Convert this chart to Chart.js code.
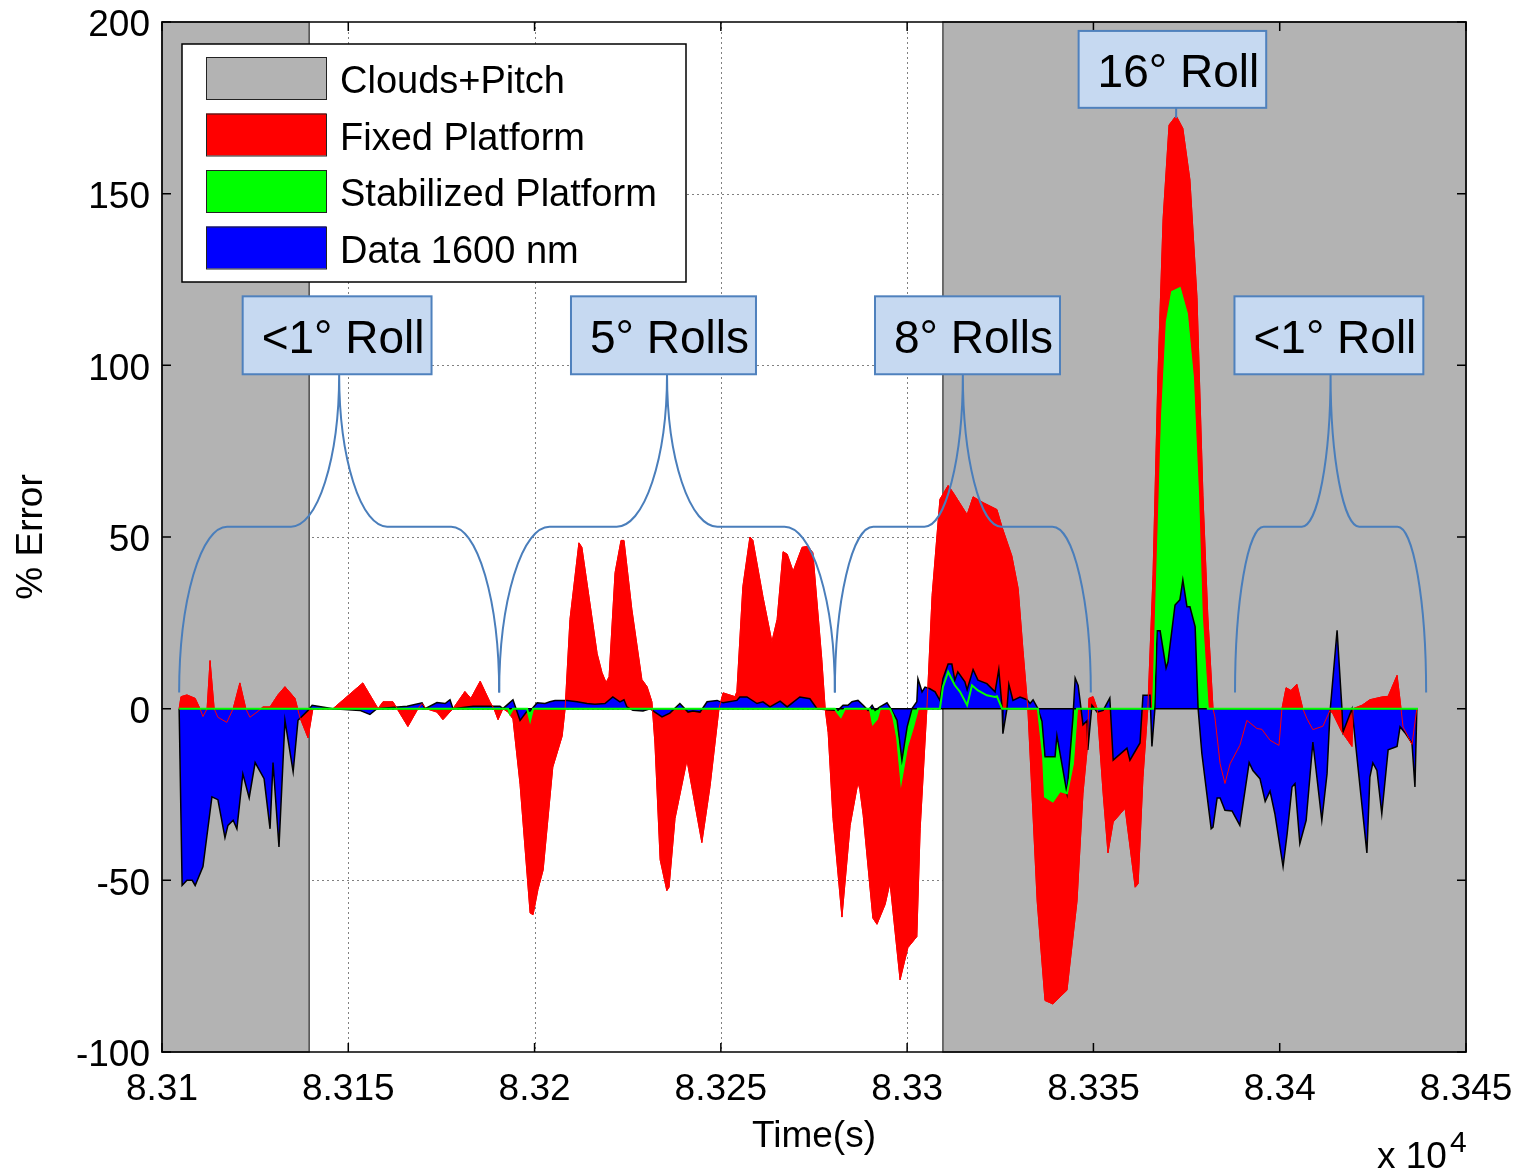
<!DOCTYPE html>
<html>
<head>
<meta charset="utf-8">
<script src="https://cdn.jsdelivr.net/npm/chart.js@4.4.1/dist/chart.umd.min.js"></script>
<style>
  html, body { margin: 0; padding: 0; background: #fff; }
  canvas { display: block; }
</style>
</head>
<body>
<canvas id="errorChart" width="1519" height="1176"></canvas>
<script>
// [time (s), % error]
const fixedPlatform = [
  [83104.6,0],[83105.1,3.5],[83106.7,4],[83108.9,3],[83110.2,0],[83111.0,-2.3],[83112.1,0],[83112.9,14],
  [83114.0,0],[83115.0,-2.5],[83117.4,-4],[83119.1,0],[83120.9,7.5],[83122.5,0],[83123.6,-2.5],[83125.5,-1],
  [83127.1,0.5],[83129.0,0.5],[83131.1,4],[83133.0,6.4],[83135.7,3],[83137.0,-2.5],[83139.2,-8.5],[83140.5,0],
  [83145.9,0],[83153.9,7.5],[83158.0,0],[83159.3,2],[83162.0,2],[83163.1,0],[83166.0,-5.2],[83168.7,0],
  [83169.8,1.5],[83170.9,0],[83173.8,-1],[83175.4,-3.2],[83178.1,0],[83181.3,5],[83182.9,3],[83185.4,8],
  [83188.0,2],[83189.1,0],[83190.2,-3.2],[83191.5,0],[83192.9,-1],[83194.2,-3],[83196.1,-22],[83198.8,-59.5],
  [83199.6,-60],[83200.9,-52.7],[83202.3,-47],[83204.9,-17],[83207.4,-8],[83208.2,0],[83209.5,26],[83211.9,48.3],
  [83212.7,47],[83216.8,16],[83218.1,10.5],[83219.2,7.6],[83220.0,9.3],[83221.6,39.6],[83223.2,49],[83224.0,49],
  [83226.1,29],[83228.8,8.5],[83230.2,6.4],[83231.5,2],[83232.3,-10],[83233.7,-44],[83235.5,-53],[83236.1,-52],
  [83237.7,-32],[83240.9,-15],[83244.9,-39],[83247.1,-22.6],[83249.5,0],[83250.6,4.6],[83253.8,3.5],[83254.3,5],
  [83255.9,35.5],[83257.8,50],[83258.6,49],[83261.3,32.6],[83263.7,19.5],[83265.1,26],[83266.7,45.7],[83267.8,45],
  [83269.4,40],[83271.8,47],[83273.4,47.3],[83274.7,45.4],[83277.1,14.3],[83278.0,0],[83278.8,-7],[83280.1,-32],
  [83282.5,-60.7],[83284.7,-34],[83286.8,-21.5],[83287.3,-23.5],[83288.2,-31],[83290.8,-61],[83291.9,-62.8],[83294.1,-57],
  [83295.4,-50.7],[83298.1,-79],[83300.2,-69.6],[83302.6,-66.4],[83303.5,-35],[83305.3,0],[83306.7,33],[83308.8,61],
  [83311.0,65],[83312.3,63],[83316.1,56.5],[83317.7,61.7],[83320.4,60],[83324.1,58],[83325.5,52.8],[83328.1,44.5],
  [83329.8,35],[83331.1,17],[83332.4,0],[83333.5,-24.6],[83334.9,-56],[83337.0,-85],[83339.1,-86],[83342.9,-82],
  [83345.6,-56],[83347.2,-24.6],[83348.3,-12],[83348.8,3],[83349.9,3.5],[83351.0,0],[83352.6,-24.6],[83353.9,-42],
  [83355.3,-33],[83358.5,-29],[83361.2,-52],[83362.0,-51],[83363.3,-20],[83364.6,0],[83366.0,39],[83367.3,96.6],
  [83368.7,142.7],[83370.3,170],[83372.2,172.7],[83374.0,169],[83375.9,154],[83377.8,119.7],[83379.4,62],[83380.7,27],
  [83382.1,0],[83382.6,-2.4],[83384.0,-16],[83385.3,-21.8],[83386.7,-16],[83389.3,-10.7],[83391.2,-3.4],[83393.9,-5.8],
  [83395.2,-6],[83397.4,-9.2],[83399.8,-10.7],[83400.6,0],[83401.7,6.1],[83403.0,5.3],[83404.6,7.1],[83406.2,0],
  [83407.3,-2.9],[83408.9,-6.1],[83411.6,-5.1],[83413.5,-0.5],[83414.3,-1.5],[83416.7,-6.8],[83419.4,-11],[83419.7,0],
  [83422.1,1],[83424.2,2.6],[83427.4,3.4],[83429.1,3.6],[83431.5,9.7],[83432.3,2.5],[83433.1,-5.3],[83435.5,-10.4],
  [83436.8,0]
];

const stabilizedPlatform = [
  [83104.6,0],[83192.9,0],[83193.4,-1.5],[83194.2,0],[83198.0,0],[83198.8,-3.4],[83199.6,0],[83280.6,0],
  [83281.2,-1],[83282.2,-2.4],[83283.3,0],[83290.0,0],[83290.8,-4.4],[83291.9,-3],[83292.7,0],[83295.4,0],
  [83296.2,-2],[83297.3,-8.3],[83298.4,-21],[83300.0,-11],[83301.6,-5.3],[83302.9,0],[83308.8,0],[83309.6,6.3],
  [83311.0,10.7],[83312.8,6.8],[83314.2,4.9],[83316.1,1],[83317.4,6.8],[83319.0,5.3],[83321.4,3.9],[83323.6,3.4],
  [83324.1,3.6],[83325.5,0],[83335.1,0],[83336.5,-14],[83337.0,-25.6],[83339.1,-27],[83341.0,-24],[83342.9,-24.6],
  [83344.5,-16],[83345.6,0],[83366.0,0],[83367.1,39],[83368.4,85],[83369.7,112.7],[83371.1,121.4],[83373.2,122.5],
  [83375.1,115],[83376.7,96.6],[83378.1,62],[83379.1,27],[83380.7,0],[83437.1,0]
];

const data1600nm = [
  [83104.6,0],[83105.4,-51.5],[83106.7,-50],[83108.1,-50],[83108.9,-51.5],[83111.0,-46],[83113.4,-25.7],[83115.0,-26.5],
  [83116.9,-37.6],[83117.7,-34],[83119.1,-32.5],[83120.1,-35],[83121.7,-19],[83123.4,-26],[83125.0,-15.7],[83127.4,-20.4],
  [83129.0,-35],[83129.8,-15.7],[83131.4,-40.3],[83133.0,-3.4],[83135.2,-18.4],[83136.5,-3.4],[83139.2,-0.5],[83140.3,1],
  [83145.9,0],[83153.1,-0.5],[83155.8,-1.7],[83157.7,0],[83165.8,0.7],[83169.8,1.7],[83170.6,0],[83173.8,1.8],
  [83176.0,1.5],[83177.3,2.6],[83178.1,0],[83183.5,0.7],[83187.2,0.7],[83190.7,0.7],[83191.5,0],[83194.2,2.6],
  [83196.1,-3.4],[83198.0,-0.7],[83198.8,-0.7],[83200.7,1.7],[83202.8,1.5],[83204.1,2],[83205.5,2.4],[83208.7,2.4],
  [83211.4,2],[83214.1,1.5],[83216.2,1.3],[83218.9,1.5],[83221.0,3.4],[83222.9,2],[83224.0,2.6],[83224.8,0.5],
  [83226.4,-0.5],[83229.1,-0.7],[83231.0,0],[83232.3,-1],[83234.2,-2.4],[83236.3,-1.3],[83239.0,1.5],[83241.2,-1],
  [83242.5,-0.7],[83244.4,-1],[83246.3,2],[83249.0,2.4],[83250.6,1.7],[83254.3,2.4],[83255.1,3.4],[83257.0,3.4],
  [83259.7,1.5],[83261.3,2],[83263.2,0.5],[83265.9,2.2],[83267.8,0.5],[83271.2,3.4],[83273.9,2.9],[83275.8,0],
  [83278.5,-0.3],[83281.4,-0.5],[83282.8,1],[83284.1,1],[83285.2,2],[83286.8,2.4],[83288.2,1],[83289.5,-0.5],
  [83290.6,1],[83291.4,-0.5],[83292.7,0.5],[83294.6,1.7],[83295.9,-0.5],[83297.3,-3.4],[83298.6,-15],[83300.0,-5.3],
  [83301.3,0],[83302.6,2],[83302.9,8.7],[83304.0,4.9],[83304.8,6.3],[83306.1,5.8],[83307.5,4.9],[83308.8,2.4],
  [83309.6,8.7],[83311.0,13],[83312.0,13],[83312.8,8.3],[83313.6,10.7],[83315.5,7.8],[83316.1,5.5],[83317.7,11.4],
  [83319.0,8.3],[83321.4,7.3],[83323.6,4.9],[83324.6,11.4],[83325.5,0],[83325.7,-7.3],[83326.8,0],[83327.3,7.1],
  [83328.4,2.4],[83330.3,3.4],[83332.2,2.6],[83333.0,1.5],[83333.8,2.6],[83335.1,0],[83336.2,-3.7],[83337.0,-14],
  [83339.7,-14],[83340.2,-7.8],[83342.9,-24.6],[83344.5,-2.6],[83345.1,8.9],[83345.9,6.8],[83347.2,-4.7],[83348.3,-3.5],
  [83348.5,-12],[83349.6,1],[83351.0,-1],[83352.6,-0.5],[83354.4,3.1],[83355.3,-15],[83359.0,-11.5],[83359.8,-15],
  [83362.5,-10],[83363.3,3.9],[83365.2,3.9],[83365.7,-11],[83366.5,0],[83367.1,22.7],[83367.9,22.7],[83369.5,11.8],
  [83370.0,13.5],[83371.9,30.2],[83373.2,31.7],[83374.0,37.5],[83375.1,29.7],[83375.9,29.7],[83377.3,23.9],[83378.1,0],
  [83379.1,-13],[83381.6,-35],[83382.1,-34.5],[83383.2,-26],[83384.0,-26],[83385.3,-29.6],[83387.2,-29.8],[83389.3,-34],
  [83391.8,-15.7],[83392.8,-18],[83394.7,-20.4],[83396.1,-27],[83397.4,-24],[83398.7,-30.6],[83400.9,-46],[83402.0,-36.4],
  [83403.3,-22.8],[83404.1,-21.8],[83405.4,-39.3],[83407.1,-32.5],[83408.9,-9.7],[83411.3,-32.5],[83412.7,-19],[83413.5,-1],
  [83415.4,22.8],[83416.7,0],[83417.0,-6.8],[83419.4,0],[83421.0,-17],[83423.4,-42],[83424.2,-19.9],[83425.0,-15.8],
  [83426.1,-18],[83427.4,-30.6],[83429.1,-12],[83431.5,-11],[83432.3,-5.3],[83433.6,-7],[83435.5,-10],[83436.3,-22.8],
  [83436.8,0]
];

// shaded "Clouds+Pitch" time spans
const cloudStart = [83100, 83309.6];
const cloudEnd = [83139.5, 83450];

// roll annotations: brace spans and label anchor times
const rollLabels = ['<1° Roll', '5° Rolls', '8° Rolls', '<1° Roll'];
const rollStart = [83104.6, 83190.5, 83280.6, 83388.0];
const rollEnd = [83190.5, 83280.6, 83349.3, 83439.3];
const rollLabelTime = [83147.0, 83234.6, 83316.2, 83413.2];
const peakLabel = '16° Roll';
const peakTime = 83372.2;
const peakLabelTime = 83371.2;

const legendLabels = ['Clouds+Pitch', 'Fixed Platform', 'Stabilized Platform', 'Data 1600 nm'];
const legendColors = ['#b3b3b3', '#ff0000', '#00ff00', '#0000ff'];

const FONT = '"Liberation Sans", Arial, sans-serif';

function toPoints(series) {
    return series.map(p => ({x: p[0], y: p[1]}));
}

const fixedPts = toPoints(fixedPlatform);
const stabPts = toPoints(stabilizedPlatform);
const dataPts = toPoints(data1600nm);

// grid + gray patches go under the areas
const backgroundPlugin = {
    id: 'background',
    beforeDatasetsDraw(chart) {
        const {ctx, chartArea: a, scales: {x, y}} = chart;
        ctx.save();
        ctx.strokeStyle = '#808080';
        ctx.lineWidth = 1;
        ctx.setLineDash([2, 3]);
        x.ticks.forEach(t => {
            if (t.value <= x.min || t.value >= x.max) return;
            const px = Math.round(x.getPixelForValue(t.value)) + 0.5;
            ctx.beginPath(); ctx.moveTo(px, a.top); ctx.lineTo(px, a.bottom); ctx.stroke();
        });
        y.ticks.forEach(t => {
            if (t.value <= y.min || t.value >= y.max) return;
            const py = Math.round(y.getPixelForValue(t.value)) + 0.5;
            ctx.beginPath(); ctx.moveTo(a.left, py); ctx.lineTo(a.right, py); ctx.stroke();
        });
        ctx.setLineDash([]);
        cloudStart.forEach((s, i) => {
            const x0 = x.getPixelForValue(s);
            const x1 = x.getPixelForValue(cloudEnd[i]);
            ctx.fillStyle = '#b3b3b3';
            ctx.fillRect(x0, a.top, x1 - x0, a.bottom - a.top);
            ctx.strokeStyle = '#4d4d4d';
            ctx.lineWidth = 1.5;
            ctx.strokeRect(x0, a.top, x1 - x0, a.bottom - a.top);
        });
        ctx.restore();
    }
};

function drawBrace(ctx, xl, xr, yb, ys, yp) {
    const half = (xr - xl) / 2, xm = xl + half, r = half * 0.3;
    ctx.beginPath();
    ctx.moveTo(xl, yb);
    ctx.ellipse(xl + r, yb, r, yb - ys, 0, Math.PI, 1.5 * Math.PI);
    ctx.lineTo(xm - r, ys);
    ctx.ellipse(xm - r, yp, r, ys - yp, 0, 0.5 * Math.PI, 0, true);
    ctx.ellipse(xm + r, yp, r, ys - yp, 0, Math.PI, 0.5 * Math.PI, true);
    ctx.lineTo(xr - r, ys);
    ctx.ellipse(xr - r, yb, r, yb - ys, 0, 1.5 * Math.PI, 2 * Math.PI);
    ctx.stroke();
}

function drawLabelBox(ctx, cx, top, bottom, text) {
    ctx.font = '46px ' + FONT;
    const w = ctx.measureText(text).width + 26;
    const left = cx - w / 2;
    ctx.fillStyle = '#c6d9f1';
    ctx.fillRect(left, top, w, bottom - top);
    ctx.strokeStyle = '#4f81bd';
    ctx.lineWidth = 2;
    ctx.strokeRect(left, top, w, bottom - top);
    ctx.fillStyle = '#000';
    ctx.textAlign = 'left';
    ctx.textBaseline = 'middle';
    ctx.fillText(text, left + 19, (top + bottom) / 2 + 5);
}

const overlayPlugin = {
    id: 'overlay',
    afterDatasetsDraw(chart) {
        const {ctx, chartArea: a, scales: {x, y}} = chart;
        ctx.save();
        // frame and inward ticks
        ctx.strokeStyle = '#000';
        ctx.lineWidth = 1.5;
        ctx.strokeRect(a.left, a.top, a.right - a.left, a.bottom - a.top);
        ctx.beginPath();
        x.ticks.forEach(t => {
            const px = x.getPixelForValue(t.value);
            ctx.moveTo(px, a.bottom); ctx.lineTo(px, a.bottom - 9);
            ctx.moveTo(px, a.top); ctx.lineTo(px, a.top + 9);
        });
        y.ticks.forEach(t => {
            const py = y.getPixelForValue(t.value);
            ctx.moveTo(a.left, py); ctx.lineTo(a.left + 9, py);
            ctx.moveTo(a.right, py); ctx.lineTo(a.right - 9, py);
        });
        ctx.stroke();

        // braces and roll labels
        ctx.strokeStyle = '#4a7ebb';
        ctx.lineWidth = 2;
        const yb = y.getPixelForValue(4.7), ys = y.getPixelForValue(53), yp = y.getPixelForValue(97.4);
        rollLabels.forEach((lab, i) => {
            drawBrace(ctx, x.getPixelForValue(rollStart[i]), x.getPixelForValue(rollEnd[i]), yb, ys, yp);
        });
        rollLabels.forEach((lab, i) => {
            drawLabelBox(ctx, x.getPixelForValue(rollLabelTime[i]), y.getPixelForValue(120.1), yp, lab);
        });
        const pcx = x.getPixelForValue(peakTime);
        ctx.strokeStyle = '#4a7ebb';
        ctx.lineWidth = 2;
        ctx.beginPath();
        ctx.moveTo(pcx, y.getPixelForValue(175));
        ctx.lineTo(pcx, y.getPixelForValue(172));
        ctx.stroke();
        drawLabelBox(ctx, x.getPixelForValue(peakLabelTime), y.getPixelForValue(197.4), y.getPixelForValue(175), peakLabel);

        // legend
        const lx = a.left + 20, ly = a.top + 22;
        ctx.fillStyle = '#fff';
        ctx.fillRect(lx, ly, 504, 238);
        ctx.strokeStyle = '#000';
        ctx.lineWidth = 1.5;
        ctx.strokeRect(lx, ly, 504, 238);
        ctx.font = '38px ' + FONT;
        ctx.textAlign = 'left';
        ctx.textBaseline = 'middle';
        legendLabels.forEach((lab, i) => {
            const top = ly + 13 + i * 56.5;
            ctx.fillStyle = legendColors[i];
            ctx.fillRect(lx + 24, top, 120, 42);
            ctx.strokeStyle = '#222';
            ctx.lineWidth = 1;
            ctx.strokeRect(lx + 24.5, top + 0.5, 120, 42);
            ctx.fillStyle = '#000';
            ctx.fillText(lab, lx + 158, top + 26);
        });

        // exponent under the x axis
        ctx.font = '37px ' + FONT;
        ctx.textBaseline = 'alphabetic';
        ctx.fillText('x 10', 1377, 1168);
        ctx.font = '30px ' + FONT;
        ctx.fillText('4', 1450, 1152);
        ctx.restore();
    }
};

const ctx = document.getElementById('errorChart').getContext('2d');
const errorChart = new Chart(ctx, {
    type: 'line',
    data: {
        datasets: [
            {label: 'Fixed Platform', data: fixedPts, borderColor: '#ff0000', backgroundColor: '#ff0000',
             borderWidth: 1, fill: 'origin', order: 6},
            {label: 'Stabilized Platform', data: stabPts, borderColor: '#00ff00', backgroundColor: '#00ff00',
             borderWidth: 1, fill: 'origin', order: 5},
            {label: 'Data 1600 nm', data: dataPts, borderColor: '#000000', backgroundColor: '#0000ff',
             borderWidth: 1.5, fill: 'origin', order: 4},
            {label: 'baseline', data: [dataPts[0], {x: dataPts[dataPts.length - 1].x, y: 0}],
             borderColor: '#000000', borderWidth: 1.5, fill: false, order: 3},
            {label: 'Fixed edge', data: fixedPts, borderColor: '#ff0000', borderWidth: 1, fill: false, order: 2},
            {label: 'Stabilized edge', data: stabPts, borderColor: '#00ff00', borderWidth: 2, fill: false, order: 1}
        ]
    },
    options: {
        responsive: false,
        animation: false,
        devicePixelRatio: 1,
        elements: {
            point: {radius: 0},
            line: {tension: 0}
        },
        layout: {padding: {top: 22, right: 53, left: 0, bottom: 0}},
        plugins: {
            legend: {display: false},
            tooltip: {enabled: false}
        },
        scales: {
            x: {
                type: 'linear',
                min: 83100,
                max: 83450,
                grid: {display: false, drawTicks: false},
                border: {display: false},
                ticks: {
                    stepSize: 50,
                    autoSkip: false,
                    maxRotation: 0,
                    padding: 4,
                    color: '#000',
                    font: {family: FONT, size: 37, lineHeight: 1.85},
                    callback: v => String(+(v / 10000).toFixed(4))
                },
                title: {
                    display: true,
                    text: 'Time(s)',
                    color: '#000',
                    font: {family: FONT, size: 37, lineHeight: 1.2},
                    padding: {top: 0, bottom: 17}
                },
                afterFit: s => { s.height = 124; }
            },
            y: {
                min: -100,
                max: 200,
                grid: {display: false, drawTicks: false},
                border: {display: false},
                ticks: {
                    stepSize: 50,
                    padding: 12,
                    labelOffset: 4,
                    color: '#000',
                    font: {family: FONT, size: 37, lineHeight: 0.5}
                },
                title: {
                    display: true,
                    text: '% Error',
                    color: '#000',
                    font: {family: FONT, size: 37, lineHeight: 1.2},
                    padding: {top: 10, bottom: 0}
                },
                afterFit: s => { s.width = 162; }
            }
        }
    },
    plugins: [backgroundPlugin, overlayPlugin]
});
</script>
</body>
</html>
